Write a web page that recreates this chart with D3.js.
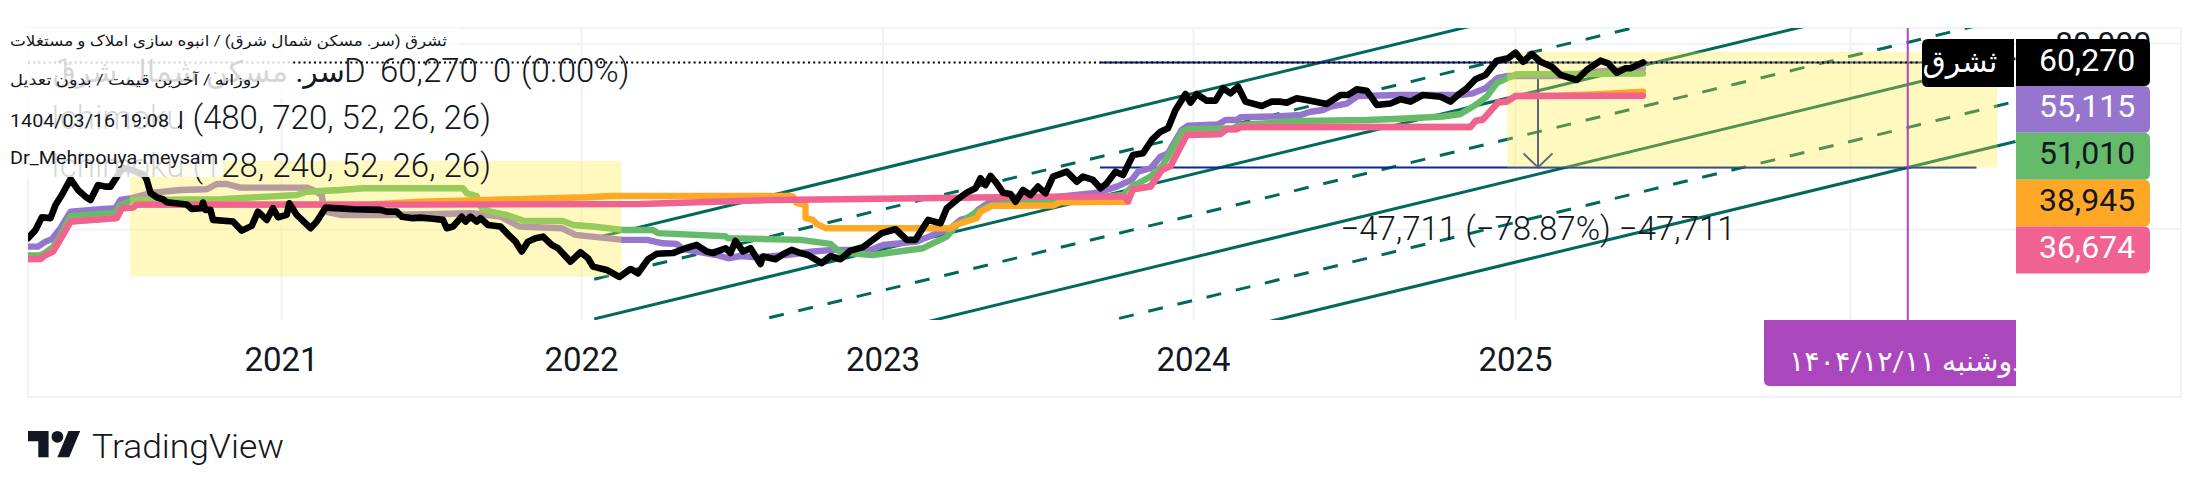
<!DOCTYPE html>
<html><head><meta charset="utf-8">
<script src="https://cdn.jsdelivr.net/npm/d3@7"></script>
<style>
html,body{margin:0;padding:0;background:#fff;}
svg{display:block;font-family:Roboto,"DejaVu Sans",sans-serif;}
</style></head><body>
<svg id="c" width="2209" height="493"></svg>
<script>
// Time axis: daily bar index (TradingView spaces bars evenly, so year ticks are uneven)
const yearBars   = [202.4, 442.4, 683.6, 932, 1189.6, 1457.6];
const yearLabels = ["2021","2022","2023","2024","2025","2026"];
const priceTicks = [80000, 5000];
const priceTickLabels = ["80,000",""];

// Price (close) as [bar, value]
const closeSeries = [[0,4360],[6,4930],[11,5950],[18,5880],[22,7160],[27,8310],[34,10530],[40,8960],[46,8110],[50,7720],[56,9650],[62,9420],[66,9420],[72,11210],[76,12450],[83,12080],[93,11210],[95,10410],[98,8570],[103,8030],[108,7800],[111,7450],[127,7210],[131,6750],[139,6820],[140,7420],[142,6650],[146,6650],[148,5730],[164,5590],[171,4880],[179,5240],[184,6480],[191,5730],[196,6820],[200,5960],[207,6170],[209,7340],[215,6170],[226,5060],[231,5590],[238,6880],[260,6720],[282,6650],[287,6480],[295,6480],[299,6010],[308,5880],[314,5925],[324,5820],[332,5730],[335,5060],[340,5190],[347,6010],[350,5590],[354,6010],[359,5590],[362,5880],[368,5310],[378,5190],[383,4700],[390,4140],[395,3570],[400,4140],[406,4360],[412,4460],[419,3940],[424,3750],[434,3070],[442,3530],[448,3230],[452,2850],[463,2710],[473,2440],[482,2750],[488,2580],[496,3180],[503,3450],[516,3490],[526,3750],[535,3940],[543,3570],[548,3490],[558,3750],[562,3490],[566,4180],[572,3570],[578,3750],[586,2960],[588,3310],[598,3180],[604,3430],[611,3660],[618,3490],[624,3390],[635,3000],[642,3340],[650,3180],[658,3620],[668,3810],[675,4200],[683,4700],[694,4980],[703,4250],[710,4250],[720,5730],[730,5450],[735,6820],[743,7720],[751,8610],[758,9190],[762,10670],[766,9650],[770,11050],[775,9900],[780,8610],[786,8440],[790,7520],[796,8960],[802,8310],[808,9420],[814,8530],[820,10940],[831,11780],[839,10140],[844,10940],[852,10410],[858,9190],[863,9900],[870,11780],[876,11210],[884,15120],[892,15500],[899,18920],[906,21410],[912,22540],[918,29620],[926,37620],[930,33050],[935,37620],[943,34040],[950,34040],[956,40960],[962,38000],[968,41960],[974,33550],[987,31450],[995,33550],[1002,33550],[1007,33050],[1015,35280],[1026,34040],[1039,32400],[1050,37060],[1056,37060],[1063,40300],[1071,39500],[1079,31920],[1090,32620],[1098,34740],[1106,33550],[1116,37060],[1130,36130],[1138,33550],[1144,37060],[1151,40960],[1158,46850],[1166,50000],[1175,61900],[1184,64100],[1190,69700],[1196,60950],[1203,68390],[1210,60950],[1219,56560],[1226,50000],[1239,46370],[1247,53840],[1258,61900],[1264,59530],[1271,51700],[1278,55230],[1282,55230],[1292,60270]];

const purpleSeries = [[0,3840],[8,3840],[14,4140],[19,4290],[26,5060],[34,6480],[58,6720],[70,6820],[74,7720],[82,7910],[100,8610],[122,8960],[143,9060],[151,9800],[159,9800],[170,9280],[223,9280],[228,8960],[235,8310],[236,7350],[238,6480],[250,6170],[287,6170],[355,6330],[378,6010],[393,5190],[427,5060],[438,4580],[476,4250],[495,4250],[508,4040],[519,4000],[524,3700],[551,3390],[560,3230],[570,3340],[583,3270],[607,3390],[628,3570],[644,3660],[674,3660],[684,3940],[711,4140],[724,4580],[738,5060],[746,5730],[756,6010],[760,6650],[768,7350],[831,8190],[852,8530],[858,8720],[871,9420],[883,10410],[888,11780],[898,12400],[906,14730],[912,15500],[923,21970],[928,23420],[952,23860],[958,25510],[967,25510],[970,26560],[999,26880],[1018,27490],[1026,28860],[1036,29620],[1042,31120],[1055,32520],[1064,36510],[1098,37060],[1146,37060],[1156,37990],[1166,40960],[1176,47900],[1184,49230],[1236,49230],[1242,51350],[1270,53840],[1292,55115]];

const greenSeries = [[0,3370],[10,3370],[14,3510],[20,3810],[24,4250],[34,6080],[70,6350],[74,7160],[84,7720],[154,7800],[215,8310],[223,8720],[250,8960],[268,9190],[348,9190],[351,8530],[359,8190],[363,6820],[370,6480],[383,6170],[396,5670],[428,5630],[436,5310],[452,5190],[476,4930],[500,4930],[504,4700],[558,4490],[560,4360],[618,4250],[642,4000],[650,3510],[676,3390],[716,3750],[723,4000],[735,4460],[743,5310],[759,6480],[770,7160],[831,7600],[876,8310],[884,9510],[898,10940],[908,13020],[924,21760],[928,22190],[964,22540],[970,23680],[991,24270],[1018,25130],[1071,25510],[1098,26000],[1132,26880],[1146,27900],[1158,31920],[1167,36130],[1175,44310],[1183,47540],[1191,50470],[1292,51010]];

const orangeSeries = [[0,3190],[10,3190],[14,3390],[20,3570],[24,4040],[34,5590],[71,5880],[75,6820],[84,6880],[87,7200],[274,7220],[314,7520],[367,7720],[447,8040],[466,8190],[610,8190],[612,8110],[615,7350],[622,7160],[622,5880],[628,5730],[631,5390],[638,5060],[738,5060],[742,5310],[759,5880],[762,6480],[771,7060],[820,7100],[826,7450],[878,7520],[884,9060],[898,9420],[907,12080],[914,12800],[927,20390],[954,20700],[959,22190],[967,22190],[970,22940],[1154,22940],[1158,25130],[1164,25690],[1176,33050],[1183,33550],[1190,36510],[1225,36650],[1260,37700],[1292,38945]];

const pinkSeries = [[0,3190],[10,3190],[14,3390],[20,3570],[24,4040],[34,5590],[71,5880],[75,6820],[84,6880],[87,7200],[314,7200],[490,7270],[596,7720],[650,7800],[810,8110],[877,8110],[880,7520],[884,9060],[898,9420],[907,12080],[914,12800],[927,20390],[954,20700],[959,22190],[967,22190],[970,22940],[1154,22940],[1158,25130],[1164,25690],[1176,33050],[1183,33550],[1190,36510],[1292,36674]];

// Parallel channel: start bar, end bar, and value at each end per line
const channelBars   = [453, 1590];
const channelStart  = [4360, 2362, 1304, 704, 375, 197, 110];
const channelEnd    = [743000, 402700, 221600, 120100, 63850, 33640, 18470];
const channelDashed = [false, true, false, true, false, true, false];

// Yellow rectangles: [bar0, bar1], [valueTop, valueBottom]
const boxBars = [[81.6, 474.8], [1183.2, 1575.5]];
const boxVals = [[13840, 2454], [70780, 12510]];

// Measure tool & last price
const lastPrice = 60270;
const measureBars = [857.6, 1558.8];
const measureArrowBar = 1208;
const measureLow = 12559;
const markerBar = 1503.8;

const labelValues = ["60,270","55,115","51,010","38,945","36,674"];
const labelFills  = ["#000000","#9575CD","#66BB6A","#FFA726","#F06292"];
const labelInks   = ["#ffffff","#ffffff","#131722","#131722","#ffffff"];

const INK = "#131722", GRID = "#F0F3FA", TEAL = "#00695C", NAVY = "#0A2A8F", PURPLE = "#AB47BC";
const L = 28, R = 2016, T = 28, B = 320, OUTER = 2181, FOOT = 397;

const svg = d3.select("#c");
const x = d3.scaleLinear().domain([0, 1590.4]).range([L, R]);
const y = d3.scaleLog().domain([1283, 100850]).range([B, T]);
const line = d3.line().x(d => x(d[0])).y(d => y(d[1]));

svg.append("defs").append("clipPath").attr("id","plot").append("rect")
   .attr("x",L).attr("y",T).attr("width",R-L).attr("height",B-T);
svg.select("defs").append("clipPath").attr("id","scale").append("rect")
   .attr("x",R).attr("y",T).attr("width",OUTER-R).attr("height",B-T);
svg.select("defs").append("clipPath").attr("id","dateclip").append("rect")
   .attr("x",1764).attr("y",320).attr("width",252).attr("height",66);

// outer frame
svg.append("path").attr("fill","none").attr("stroke",GRID).attr("stroke-width",2)
   .attr("d",`M${L},${T}H${OUTER}V${FOOT}H${L}Z`);

// x axis with grid
const xAxis = d3.axisBottom(x).tickValues(yearBars).tickFormat((d,i)=>yearLabels[i])
   .tickSize(-(B-T)).tickPadding(28);
const gx = svg.append("g").attr("transform",`translate(0,${B})`).call(xAxis);
gx.select(".domain").remove();
gx.selectAll("line").attr("stroke",GRID).attr("stroke-width",2);
gx.selectAll("text").attr("font-size",33).attr("font-weight",400).attr("fill",INK).attr("font-family","Roboto");

// y grid
const gy = svg.append("g").attr("transform",`translate(${R},0)`)
   .call(d3.axisLeft(y).tickValues(priceTicks).tickFormat("").tickSize(R-L));
gy.select(".domain").remove();
gy.selectAll("line").attr("stroke",GRID).attr("stroke-width",2);
svg.append("g").selectAll("line").data(priceTicks).join("line")
   .attr("x1",R).attr("x2",OUTER).attr("y1",d=>y(d)).attr("y2",d=>y(d)).attr("stroke",GRID).attr("stroke-width",2);

const chart = svg.append("g").attr("clip-path","url(#plot)");

// channel lines
chart.append("g").selectAll("path").data(channelStart.map((v,i)=>i)).join("path")
  .attr("fill","none").attr("stroke",TEAL).attr("stroke-width",3)
  .attr("stroke-dasharray",i=>channelDashed[i]?"15 15":null)
  .attr("d",i=>line([[channelBars[0],channelStart[i]],[channelBars[1],channelEnd[i]]]));

// measure tool
chart.append("path").attr("fill","none").attr("stroke",NAVY).attr("stroke-width",2)
  .attr("d",line([[measureBars[0],measureLow],[measureBars[1],measureLow]]));
chart.append("path").attr("fill","none").attr("stroke",NAVY).attr("stroke-width",2)
  .attr("d",line([[measureBars[0],lastPrice],[measureBars[1],lastPrice]]));
chart.append("path").attr("fill","none").attr("stroke",NAVY).attr("stroke-width",2)
  .attr("d",line([[measureArrowBar,lastPrice],[measureArrowBar,measureLow]]));
const ax = x(measureArrowBar), ay = y(measureLow);
chart.append("path").attr("fill","none").attr("stroke",NAVY).attr("stroke-width",2)
  .attr("d",`M${ax-14.5},${ay-14}L${ax},${ay}L${ax+14.5},${ay-14}`);

// purple, green lie under the yellow boxes
const thick = (data,color,w=6.4)=>chart.append("path").datum(data).attr("fill","none").attr("stroke",color)
  .attr("stroke-width",w).attr("stroke-linejoin","round").attr("stroke-linecap","round").attr("d",line);
thick(purpleSeries,"#9575CD");
thick(greenSeries,"#66BB6A");

chart.append("g").selectAll("rect").data(boxBars.map((b,i)=>i)).join("rect")
  .attr("x",i=>x(boxBars[i][0])).attr("width",i=>x(boxBars[i][1])-x(boxBars[i][0]))
  .attr("y",i=>y(boxVals[i][0])).attr("height",i=>y(boxVals[i][1])-y(boxVals[i][0]))
  .attr("fill","#FFEB3B").attr("fill-opacity",.32);

thick(orangeSeries,"#FFA726");
thick(pinkSeries,"#F06292");

// last-price dotted line
chart.append("path").attr("fill","none").attr("stroke","#000").attr("stroke-width",2)
  .attr("stroke-dasharray","2 3.2")
  .attr("d",line([[0,lastPrice],[1514,lastPrice]]));

// marker vertical line
chart.append("path").attr("fill","none").attr("stroke",PURPLE).attr("stroke-width",2)
  .attr("d",`M${x(markerBar)},${T}V${B}`);

thick(closeSeries,"#000",6.6);

// measure text
svg.append("text").attr("x",1538).attr("y",240).attr("text-anchor","middle")
  .attr("font-size",33).attr("font-weight",300).attr("fill",INK)
  .text("\u221247,711 (\u221278.87%) \u221247,711");

// price axis labels
const gr = svg.append("g").attr("clip-path","url(#scale)");
gr.append("g").attr("transform",`translate(${R},0)`)
  .call(d3.axisRight(y).tickValues(priceTicks).tickFormat((d,i)=>priceTickLabels[i]).tickSize(0).tickPadding(39))
  .call(g=>g.select(".domain").remove())
  .selectAll("text").attr("font-size",32).attr("fill",INK).attr("font-family","Roboto");

const labelH = 46.9, labelTop = 39;
const rr = (x0,y0,w,h,r)=>`M${x0},${y0}H${x0+w-r}Q${x0+w},${y0} ${x0+w},${y0+r}V${y0+h-r}Q${x0+w},${y0+h} ${x0+w-r},${y0+h}H${x0}Z`;
svg.append("g").selectAll("path").data(labelValues).join("path")
  .attr("fill",(d,i)=>labelFills[i])
  .attr("d",(d,i)=>rr(R,labelTop+i*labelH,134,labelH,6));
svg.append("g").selectAll("text").data(labelValues).join("text")
  .attr("x",2087).attr("y",(d,i)=>labelTop+i*labelH+31.5).attr("text-anchor","middle")
  .attr("font-size",32).attr("fill",(d,i)=>labelInks[i]).text(d=>d);

// name tag
svg.append("path").attr("fill","#000")
  .attr("d",`M2014,39H1928Q1922,39 1922,45V81Q1922,87 1928,87H2014Z`);
svg.append("text").attr("x",1960).attr("y",72).attr("text-anchor","middle")
  .attr("font-size",30).attr("fill","#fff").text("ثشرق");

// date label
svg.append("path").attr("fill",PURPLE).attr("d",`M1764,320H2016V386H1770Q1764,386 1764,380Z`);
svg.append("g").attr("clip-path","url(#dateclip)").append("text")
  .attr("x",1789).attr("y",371).attr("direction","rtl").attr("text-anchor","end")
  .attr("font-size",28.5).attr("fill","#fff").text("دوشنبه ۱۴۰۴/۱۲/۱۱");

// legend large text
const big = (x0,y0,s,anchor)=>svg.append("text").attr("x",x0).attr("y",y0).attr("font-size",33)
  .attr("font-weight",300).attr("fill",INK).attr("text-anchor",anchor||"start").text(s);
svg.append("text").attr("x",345).attr("y",82).attr("font-size",30).attr("direction","rtl")
  .attr("text-anchor","start").attr("fill",INK).text("سر. مسکن شمال شرق");
big(344,82,"D"); big(380,82,"60,270"); big(493,82,"0"); big(521,82,"(0.00%)");
big(55,82,"1");
big(51,129,"Ichimoku (480, 720, 52, 26, 26)");
big(51,177,"Ichimoku (128, 240, 52, 26, 26)");

// translucent panels under the watermark text
const panels = [[0,28,459,22],[0,50,291,48],[0,98,178,42],[0,140,223,37]];
svg.append("g").selectAll("rect").data(panels).join("rect")
  .attr("x",d=>d[0]).attr("y",d=>d[1]).attr("width",d=>d[2]).attr("height",d=>d[3])
  .attr("fill","#fff").attr("fill-opacity",.82);

// watermark block
const small = (x0,y0,s,size,len)=>svg.append("text").attr("x",x0).attr("y",y0).attr("font-size",size)
  .attr("fill",INK).attr("textLength",len).attr("lengthAdjust","spacingAndGlyphs").text(s);
small(10,46,"ثشرق (سر. مسکن شمال شرق) / انبوه سازی املاک و مستغلات",15,437);
small(10,85,"روزانه / آخرین قیمت / بدون تعدیل",15,250);
small(10,127,"1404/03/16 19:08",19,159);
small(10,164,"Dr_Mehrpouya.meysam",19,208);

// TradingView logo & wordmark
const logo = svg.append("g").attr("transform","translate(28,425) scale(1.47)").attr("fill",INK);
logo.append("path").attr("d","M14 22H7V11H0V4h14v18zM28 22h-8l7.5-18h8L28 22z");
logo.append("circle").attr("cx",20).attr("cy",8).attr("r",4);
svg.append("text").attr("x",92).attr("y",458).attr("font-size",34).attr("font-weight",300).attr("fill",INK)
  .attr("textLength",192).attr("lengthAdjust","spacingAndGlyphs").text("TradingView");
</script>
</body></html>
